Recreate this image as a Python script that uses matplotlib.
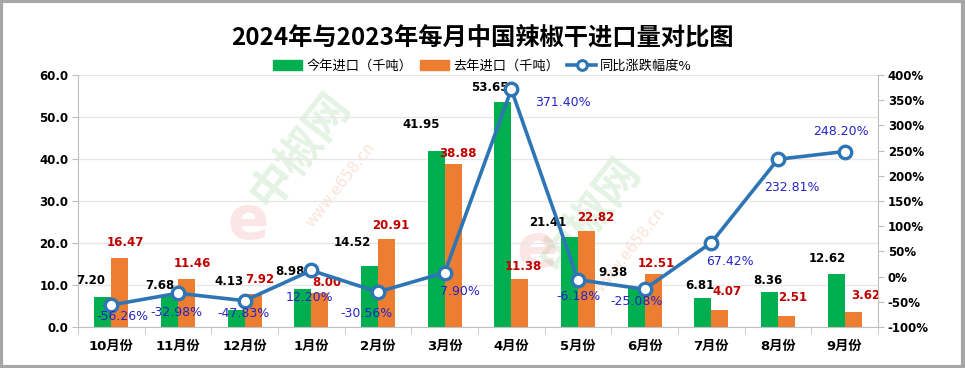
import numpy as np
import matplotlib
matplotlib.use("Agg")
import matplotlib.pyplot as plt
from matplotlib.patches import Rectangle
from matplotlib.lines import Line2D

plt.rcParams['font.family'] = ['DejaVu Sans', 'Noto Sans CJK SC']

months = ["10月份", "11月份", "12月份", "1月份", "2月份", "3月份",
          "4月份", "5月份", "6月份", "7月份", "8月份", "9月份"]
this_year = [7.20, 7.68, 4.13, 8.98, 14.52, 41.95, 53.65, 21.41, 9.38, 6.81, 8.36, 12.62]
last_year = [16.47, 11.46, 7.92, 8.00, 20.91, 38.88, 11.38, 22.82, 12.51, 4.07, 2.51, 3.62]
change_pct = [-56.26, -32.98, -47.83, 12.20, -30.56, 7.90, 371.40, -6.18, -25.08, 67.42, 232.81, 248.20]

# label offsets in pixels (dx, dy)
cur_off = [(-12, 16), (-10, 9), (-7, 28), (-13, 18), (-17, 24), (-15, 26),
           (-13, 14), (-22, 15), (-23, 15), (-3, 13), (-2, 11), (-9, 15)]
prev_off = [(6, 15), (6, 15), (7, 14), (7, 11), (4, 14), (5, 10),
            (3, 13), (9, 14), (3, 11), (7, 18), (6, 19), (13, 16)]
pct_off = [(11, -12), (-2, -19), (-1, -13), (-2, -27), (-11, -21), (15, -19),
           (52, -13), (1, -17), (-8, -12), (19, -19), (14, -28), (-4, 20)]

GREEN = "#00B050"
ORANGE = "#ED7D31"
BLUE = "#2E75B6"
PX = 0.72  # points per pixel at dpi 100

fig = plt.figure(figsize=(9.65, 3.68), dpi=100)
ax = fig.add_axes([78 / 965, 1 - 327 / 368, 800 / 965, 252 / 368])
ax2 = ax.twinx()
ax.patch.set_facecolor('none')

x = np.arange(len(months))
w = 0.255
ax.bar(x - w / 2, this_year, w, color=GREEN, zorder=2)
ax.bar(x + w / 2, last_year, w, color=ORANGE, zorder=2)

ax.set_xlim(-0.5, len(months) - 0.5)
ax.set_ylim(0, 60)
ax.set_yticks(np.arange(0, 61, 10))
ax.set_yticklabels([f"{v:.1f}" for v in np.arange(0, 61, 10)])
ax.grid(axis='y', color='#E6E6E6', lw=0.9, zorder=0)
ax.set_axisbelow(True)
ax.set_xticks(x)
ax.set_xticklabels(months, fontsize=9.5, fontweight='bold')
ax.set_xticks(np.arange(-0.5, len(months)), minor=True)
ax.tick_params(axis='x', which='major', length=0, pad=9)
ax.tick_params(axis='x', which='minor', length=5, color='#BFBFBF')
ax.tick_params(axis='y', length=4, color='#BFBFBF', labelsize=8.5, pad=3)
for lab in ax.get_yticklabels():
    lab.set_fontweight('bold')

for s in ['top', 'right']:
    ax.spines[s].set_visible(False)
ax.spines['left'].set_color('#BFBFBF')
ax.spines['bottom'].set_color('#BFBFBF')

ax2.set_ylim(-100, 400)
ax2.set_yticks(np.arange(-100, 401, 50))
ax2.set_yticklabels([f"{v}%" for v in np.arange(-100, 401, 50)])
ax2.tick_params(axis='y', length=4, color='#BFBFBF', labelsize=8.5, pad=3)
for lab in ax2.get_yticklabels():
    lab.set_fontweight('bold')
for s in ['top', 'left', 'bottom']:
    ax2.spines[s].set_visible(False)
ax2.spines['right'].set_color('#BFBFBF')

ax2.plot(x, change_pct, color=BLUE, lw=2.6, marker='o', ms=9,
         mfc='white', mec=BLUE, mew=2.4, zorder=4)

for i in range(len(months)):
    dx, dy = cur_off[i]
    ax.annotate(f"{this_year[i]:.2f}", (x[i] - w / 2, this_year[i]),
                xytext=(dx * PX, dy * PX), textcoords='offset points',
                ha='center', va='center', fontsize=8.5, fontweight='bold',
                color='black', zorder=6)
    dx, dy = prev_off[i]
    ax.annotate(f"{last_year[i]:.2f}", (x[i] + w / 2, last_year[i]),
                xytext=(dx * PX, dy * PX), textcoords='offset points',
                ha='center', va='center', fontsize=8.5, fontweight='bold',
                color='#C00000', zorder=6)
    dx, dy = pct_off[i]
    ax2.annotate(f"{change_pct[i]:.2f}%", (x[i], change_pct[i]),
                 xytext=(dx * PX, dy * PX), textcoords='offset points',
                 ha='center', va='center', fontsize=9,
                 color='#2424C8', zorder=6)

# faint watermarks behind the chart
for ox, oy in [(0, 0), (290, 65)]:
    fig.text((300 + ox) / 965, 1 - (150 + oy) / 368, "中椒网", fontsize=32,
             fontweight='bold', color='#A8D8A8', alpha=0.3, rotation=52,
             ha='center', va='center', family=['Noto Sans CJK SC'], zorder=-5)
    fig.text((340 + ox) / 965, 1 - (185 + oy) / 368, "www.e658.cn", fontsize=11,
             color='#F4A07A', alpha=0.3, rotation=52, ha='center', va='center',
             zorder=-5)
for ex, ey in [(248, 222), (537, 250)]:
    fig.text(ex / 965, 1 - ey / 368, "e", fontsize=44,
             fontweight='bold', color='#F07070', alpha=0.18,
             ha='center', va='center', zorder=-5)

fig.text(0.5, 1 - 38 / 368, "2024年与2023年每月中国辣椒干进口量对比图",
         fontsize=17.5, fontweight='heavy', ha='center', va='center',
         family=['Noto Sans CJK SC', 'DejaVu Sans'])

handles = [Rectangle((0, 0), 1, 1, color=GREEN),
           Rectangle((0, 0), 1, 1, color=ORANGE),
           Line2D([], [], color=BLUE, lw=2.6, marker='o', ms=7,
                  mfc='white', mec=BLUE, mew=2.2)]
fig.legend(handles, ["今年进口（千吨）", "去年进口（千吨）", "同比涨跌幅度%"],
           loc='center', bbox_to_anchor=(0.5, 1 - 66 / 368), ncol=3,
           frameon=False, handlelength=2.2, handletextpad=0.3,
           columnspacing=0.6, prop={'family': ['Noto Sans CJK SC', 'DejaVu Sans'], 'size': 9.5})

fig.patches.append(Rectangle((0.001, 0.002), 0.997, 0.995, transform=fig.transFigure,
                             fill=False, edgecolor='#A6A6A6', lw=3))

fig.savefig("out.png", dpi=100)
